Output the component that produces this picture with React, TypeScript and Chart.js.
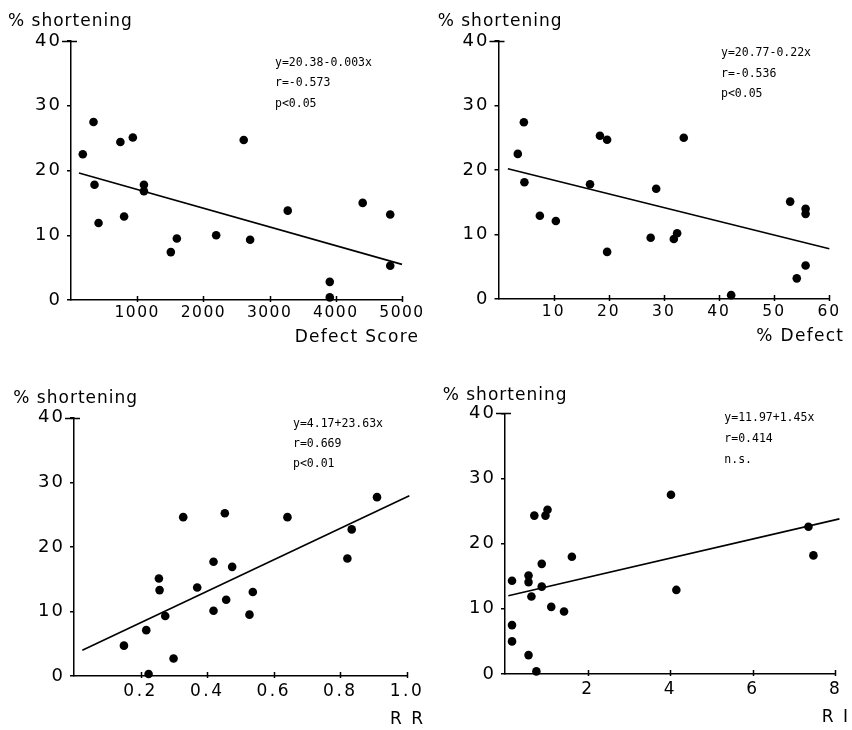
import React, { useEffect, useRef } from "react";
import { Chart, registerables } from "chart.js";

Chart.register(...registerables);

// ---- shared ----
const yTicks = [0, 10, 20, 30, 40];
const yTitle = "% shortening";

// ---- Panel A: Defect Score ----
const defectScoreX = [178, 340, 355, 416, 746, 802, 934, 1102, 1102, 1508, 1599, 2193, 2609, 2706, 3274, 3909, 3909, 4406, 4822, 4822];
const defectScoreY = [22.5, 27.5, 17.8, 11.9, 24.4, 12.9, 25.1, 17.8, 16.8, 7.4, 9.5, 10.0, 24.7, 9.3, 13.8, 2.8, 0.4, 15.0, 13.2, 5.3];
const defectScoreFitX = [120, 5000];
const defectScoreFitY = [19.6, 5.5];
const defectScoreTicks = [1000, 2000, 3000, 4000, 5000];
const defectScoreStats = ["y=20.38-0.003x", "r=-0.573", "p<0.05"];

// ---- Panel B: % Defect ----
const pctDefectX = [3.5, 4.6, 4.7, 7.5, 10.4, 16.6, 18.4, 19.7, 19.7, 27.6, 28.6, 31.8, 32.4, 33.6, 42.2, 52.9, 54.1, 55.7, 55.7, 55.7];
const pctDefectY = [22.5, 27.4, 18.1, 12.9, 12.1, 17.8, 25.3, 24.7, 7.3, 9.5, 17.1, 9.3, 10.2, 25.0, 0.6, 15.1, 3.2, 14.0, 13.2, 5.2];
const pctDefectFitX = [1.7, 60];
const pctDefectFitY = [20.2, 7.8];
const pctDefectTicks = [10, 20, 30, 40, 50, 60];
const pctDefectStats = ["y=20.77-0.22x", "r=-0.536", "p<0.05"];

// ---- Panel C: RR ----
const rrX = [0.15, 0.217, 0.224, 0.255, 0.257, 0.274, 0.299, 0.328, 0.37, 0.419, 0.419, 0.453, 0.457, 0.475, 0.527, 0.537, 0.641, 0.821, 0.834, 0.91];
const rrY = [4.7, 7.1, 0.3, 15.1, 13.3, 9.3, 2.7, 24.6, 13.7, 17.7, 10.1, 25.2, 11.8, 16.9, 9.5, 13.0, 24.6, 18.2, 22.7, 27.7];
const rrFitX = [0.025, 1.007];
const rrFitY = [4.0, 27.9];
const rrTicks = [0.2, 0.4, 0.6, 0.8, 1.0];
const rrStats = ["y=4.17+23.63x", "r=0.669", "p<0.01"];

// ---- Panel D: RI ----
const riX = [0.17, 0.17, 0.17, 0.57, 0.57, 0.57, 0.64, 0.71, 0.76, 0.89, 0.89, 0.98, 1.03, 1.12, 1.43, 1.62, 4.02, 4.15, 7.35, 7.47];
const riY = [14.3, 7.5, 5.0, 15.1, 14.1, 2.9, 11.9, 24.3, 0.4, 16.9, 13.4, 24.3, 25.2, 10.3, 9.6, 18.0, 27.5, 12.9, 22.6, 18.2];
const riFitX = [0.08, 8.1];
const riFitY = [12.0, 23.8];
const riTicks = [2, 4, 6, 8];
const riStats = ["y=11.97+1.45x", "r=0.414", "n.s."];

const W = 426;
const H = 365;
const FONT = '"DejaVu Sans", sans-serif';
const MONO = '"DejaVu Sans Mono", monospace';

type PanelDef = {
  pageLeft: number;
  pageTop: number;
  area: { l: number; r: number; t: number; b: number };
  xMax: number;
  xs: number[];
  ys: number[];
  fitX: number[];
  fitY: number[];
  ticks: number[];
  fmt: (v: number) => string;
  xLabel: string;
  stats: string[];
  tickFont: number;
  tickSpacing: number;
  tickPad: number;
  labelFont: number;
  labelSpacing: number;
  title: [number, number];
  label: [number, number];
  statsPos: [number, number, number];
};

const panels: PanelDef[] = [
  {
    pageLeft: 0, pageTop: 0,
    area: { l: 71, r: 402, t: 41, b: 300 },
    xMax: 5000, xs: defectScoreX, ys: defectScoreY, fitX: defectScoreFitX, fitY: defectScoreFitY,
    ticks: defectScoreTicks, fmt: (v) => String(v), xLabel: "Defect Score", stats: defectScoreStats,
    tickFont: 15.5, tickSpacing: 1.5, tickPad: 4, labelFont: 17, labelSpacing: 1.3,
    title: [8, 26], label: [418, 342], statsPos: [275, 62.7, 20.5],
  },
  {
    pageLeft: 426, pageTop: 0,
    area: { l: 72.5, r: 403.3, t: 41, b: 299 },
    xMax: 60, xs: pctDefectX, ys: pctDefectY, fitX: pctDefectFitX, fitY: pctDefectFitY,
    ticks: pctDefectTicks, fmt: (v) => String(v), xLabel: "% Defect", stats: pctDefectStats,
    tickFont: 15.5, tickSpacing: 2, tickPad: 4, labelFont: 17, labelSpacing: 1.3,
    title: [11.7, 26], label: [417, 341], statsPos: [295, 53.3, 20.5],
  },
  {
    pageLeft: 0, pageTop: 365,
    area: { l: 74, r: 407, t: 52.7, b: 311 },
    xMax: 1.0, xs: rrX, ys: rrY, fitX: rrFitX, fitY: rrFitY,
    ticks: rrTicks, fmt: (v) => v.toFixed(1), xLabel: "R R", stats: rrStats,
    tickFont: 17, tickSpacing: 2.5, tickPad: 5.5, labelFont: 17, labelSpacing: 2,
    title: [13.3, 38.3], label: [423, 358.5], statsPos: [293, 59, 20.2],
  },
  {
    pageLeft: 426, pageTop: 365,
    area: { l: 79, r: 409.3, t: 48.3, b: 309 },
    xMax: 8, xs: riX, ys: riY, fitX: riFitX, fitY: riFitY,
    ticks: riTicks, fmt: (v) => String(v), xLabel: "R I", stats: riStats,
    tickFont: 17, tickSpacing: 2, tickPad: 5.5, labelFont: 17, labelSpacing: 2,
    title: [16.7, 35], label: [422, 356.5], statsPos: [298.3, 53.3, 20.8],
  },
];

function spaceLabels(s: any, sp: number) {
  if (s.__spaced) return;
  s.__spaced = true;
  const orig = s.drawLabels.bind(s);
  s.drawLabels = (area: any) => {
    const c = s.ctx;
    const prev = c.letterSpacing;
    c.letterSpacing = sp + "px";
    orig(area);
    c.letterSpacing = prev || "0px";
  };
}

function Panel({ def }: { def: PanelDef }) {
  const ref = useRef<HTMLCanvasElement | null>(null);
  useEffect(() => {
    const canvas = ref.current!;
    const deco = {
      id: "deco",
      afterDraw(chart: any) {
        const { ctx } = chart;
        const xs = chart.scales.x;
        const ys = chart.scales.y;
        ctx.save();
        ctx.strokeStyle = "#000";
        ctx.lineWidth = 1.5;
        ctx.beginPath();
        for (const v of def.ticks) {
          const px = Math.round(xs.getPixelForValue(v)) + 0.5;
          ctx.moveTo(px, xs.top + 2);
          ctx.lineTo(px, xs.top - 4);
        }
        // top y tick crossing the axis
        const topY = Math.round(ys.getPixelForValue(40)) + 0.5;
        ctx.moveTo(ys.right - 9, topY);
        ctx.lineTo(ys.right + 6, topY);
        ctx.stroke();
        ctx.fillStyle = "#000";
        // y title
        ctx.font = `17px ${FONT}`;
        ctx.letterSpacing = "1px";
        ctx.textAlign = "left";
        ctx.textBaseline = "alphabetic";
        ctx.fillText(yTitle, def.title[0], def.title[1]);
        // x label
        ctx.font = `${def.labelFont}px ${FONT}`;
        ctx.letterSpacing = def.labelSpacing + "px";
        ctx.textAlign = "right";
        ctx.fillText(def.xLabel, def.label[0] + def.labelSpacing, def.label[1]);
        // stats
        ctx.letterSpacing = "0px";
        ctx.font = `11.5px ${MONO}`;
        ctx.textAlign = "left";
        ctx.textBaseline = "middle";
        def.stats.forEach((s, i) => {
          ctx.fillText(s, def.statsPos[0], def.statsPos[1] + i * def.statsPos[2]);
        });
        ctx.restore();
      },
    };
    const chart = new Chart(canvas, {
      type: "scatter",
      data: {
        datasets: [
          {
            data: def.xs.map((x, i) => ({ x, y: def.ys[i] })),
            backgroundColor: "#000",
            borderColor: "#000",
            borderWidth: 0,
            pointRadius: 4.3,
            clip: false as any,
          },
          {
            type: "line" as any,
            data: def.fitX.map((x, i) => ({ x, y: def.fitY[i] })),
            borderColor: "#000",
            borderWidth: 1.6,
            pointRadius: 0,
            showLine: true,
            fill: false,
            clip: false as any,
          } as any,
        ],
      },
      plugins: [deco],
      options: {
        animation: false,
        responsive: false,
        layout: { padding: { left: 0, top: def.area.t, right: W - def.area.r, bottom: 0 } },
        plugins: { legend: { display: false }, tooltip: { enabled: false }, title: { display: false } },
        scales: {
          x: {
            type: "linear",
            min: 0,
            max: def.xMax,
            afterBuildTicks: (s: any) => {
              s.ticks = def.ticks.map((v) => ({ value: v }));
            },
            afterFit: (s: any) => {
              s.height = H - def.area.b;
              spaceLabels(s, def.tickSpacing);
            },
            grid: { display: false, drawTicks: false },
            border: { display: true, color: "#000", width: 1.5 },
            ticks: {
              color: "#000",
              font: { family: FONT, size: def.tickFont },
              padding: def.tickPad,
              maxRotation: 0,
              autoSkip: false,
              callback: (v: any) => def.fmt(Number(v)),
            },
          },
          y: {
            type: "linear",
            min: 0,
            max: 40,
            afterBuildTicks: (s: any) => {
              s.ticks = yTicks.map((v) => ({ value: v }));
            },
            afterFit: (s: any) => {
              s.width = def.area.l;
              spaceLabels(s, 2);
            },
            grid: { display: true, drawOnChartArea: false, drawTicks: true, tickLength: 4, color: "#000", lineWidth: 1.5 },
            border: { display: true, color: "#000", width: 1.5 },
            ticks: {
              color: "#000",
              font: { family: FONT, size: 18 },
              padding: 5,
              callback: (v: any) => String(v),
            },
          },
        },
      } as any,
    });
    return () => chart.destroy();
  }, []);
  return (
    <canvas
      ref={ref}
      width={W}
      height={H}
      style={{ position: "absolute", left: def.pageLeft, top: def.pageTop, width: W, height: H }}
    />
  );
}

export default function App() {
  return (
    <div style={{ position: "absolute", left: 0, top: 0, width: 852, height: 730, background: "#fff" }}>
      {panels.map((p, i) => (
        <Panel key={i} def={p} />
      ))}
    </div>
  );
}
